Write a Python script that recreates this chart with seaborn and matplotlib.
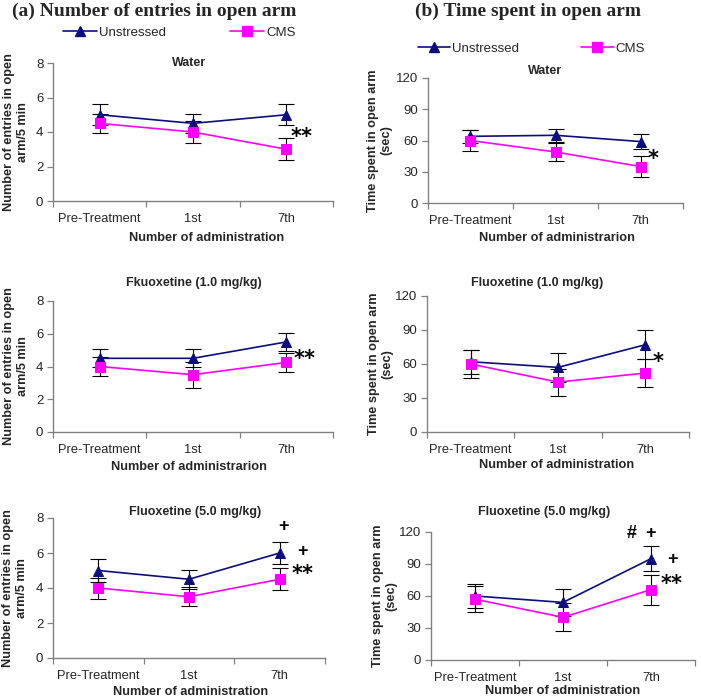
import matplotlib
matplotlib.use("Agg")
import matplotlib.pyplot as plt
from matplotlib.lines import Line2D
import seaborn as sns
import pandas as pd

# ---------------- data ----------------
categories = ["Pre-Treatment", "1st", "7th"]
groups = ["Unstressed", "CMS"]

# (a) Number of entries in open arm
ent_water_uns = [5.0, 4.5, 5.0]
ent_water_uns_err = [0.62, 0.55, 0.62]
ent_water_cms = [4.5, 4.0, 3.0]
ent_water_cms_err = [0.55, 0.65, 0.65]

ent_flx1_uns = [4.5, 4.5, 5.5]
ent_flx1_uns_err = [0.55, 0.55, 0.55]
ent_flx1_cms = [4.0, 3.5, 4.25]
ent_flx1_cms_err = [0.6, 0.8, 0.6]

ent_flx5_uns = [5.0, 4.5, 6.0]
ent_flx5_uns_err = [0.65, 0.55, 0.65]
ent_flx5_cms = [4.0, 3.5, 4.5]
ent_flx5_cms_err = [0.6, 0.55, 0.62]

# (b) Time spent in open arm (sec)
time_water_uns = [64, 65, 59]
time_water_uns_err = [6, 6.5, 7]
time_water_cms = [60, 49, 35]
time_water_cms_err = [10, 9, 10]

time_flx1_uns = [62, 57, 77]
time_flx1_uns_err = [10.5, 12.5, 13]
time_flx1_cms = [60, 44, 52]
time_flx1_cms_err = [12, 12, 12]

time_flx5_uns = [60, 54, 95]
time_flx5_uns_err = [11, 13, 12]
time_flx5_cms = [57, 40, 66]
time_flx5_cms_err = [12, 13, 14]

ent_yticks = [0, 2, 4, 6, 8]
time_yticks = [0, 30, 60, 90, 120]

# ---------------- style ----------------
sns.set_theme(style="ticks")
plt.rcParams["font.family"] = ["Liberation Sans", "DejaVu Sans"]

NAVY = "#0d0d80"
MAG = "#ff00ff"
AX_GRAY = "#808080"
W, H = 701, 700

fig = plt.figure(figsize=(7.01, 7.0), dpi=100)
fig.patch.set_facecolor("white")


def px_axes(left, top, right, bottom):
    return fig.add_axes([left / W, 1 - bottom / H, (right - left) / W, (bottom - top) / H])


def panel(ax, uns, uns_err, cms, cms_err, yticks, title, tpos, xlabel, xlpos,
          ylabel, ylx, annots):
    pos = list(range(len(categories)))
    df = pd.DataFrame({
        "pos": pos * 2,
        "value": list(uns) + list(cms),
        "group": [groups[0]] * 3 + [groups[1]] * 3,
    })
    errs = {groups[0]: uns_err, groups[1]: cms_err}
    for g, col, mk, ms in [(groups[0], NAVY, "^", 7.8), (groups[1], MAG, "s", 7.5)]:
        sub = df[df["group"] == g]
        ax.errorbar(sub["pos"], sub["value"], yerr=errs[g], fmt="none",
                    ecolor="black", elinewidth=0.8, capsize=5.5, capthick=0.8, zorder=2)
        sns.lineplot(data=sub, x="pos", y="value", color=col, marker=mk,
                     markersize=ms, markeredgecolor=col, linewidth=1.2,
                     ax=ax, legend=False, zorder=3)
    ax.set_xlim(-0.5, len(categories) - 0.5)
    ax.set_ylim(yticks[0], yticks[-1])
    ax.set_yticks(yticks)
    ax.set_xticks(pos)
    ax.set_xticklabels(categories)
    ax.set_xticks([p - 0.5 for p in pos] + [pos[-1] + 0.5], minor=True)
    ax.tick_params(axis="x", which="major", length=0, pad=8.5, labelsize=9.3)
    ax.tick_params(axis="x", which="minor", length=4, width=0.9, color=AX_GRAY, direction="out")
    ax.tick_params(axis="y", length=4, width=0.9, color=AX_GRAY, pad=3, labelsize=9.5)
    for s in ["top", "right"]:
        ax.spines[s].set_visible(False)
    for s in ["left", "bottom"]:
        ax.spines[s].set_color(AX_GRAY)
        ax.spines[s].set_linewidth(1.0)
    ax.set_facecolor("white")
    ax.text(tpos[0], tpos[1], title, transform=ax.transAxes, ha="center",
            va="center", fontsize=9, fontweight="bold")
    ax.set_xlabel(xlabel, fontsize=9.2, fontweight="bold", va="center")
    ax.xaxis.set_label_coords(xlpos[0], xlpos[1])
    ax.set_ylabel(ylabel, fontsize=9.2, fontweight="bold", va="center",
                  linespacing=1.15)
    ax.yaxis.set_label_coords(ylx, 0.5)
    for (tx, ty, s) in annots:
        if "*" in s:
            ax.annotate(s, (tx, ty), xytext=(0, -5), textcoords="offset points",
                        ha="center", va="center", fontsize=15, fontweight="bold",
                        family="DejaVu Sans", color="black")
        else:
            ax.annotate(s, (tx, ty), xytext=(0, 0), textcoords="offset points",
                        ha="center", va="center", fontsize=13, fontweight="bold",
                        family="Liberation Sans", color="black")


ylab_a = "Number of entries in open\narm/5 min"
ylab_b = "Time spent in open arm\n(sec)"

ax1 = px_axes(53, 63, 333, 201)
panel(ax1, ent_water_uns, ent_water_uns_err, ent_water_cms, ent_water_cms_err,
      ent_yticks, "Water", (0.486, 1.0), "Number of administration", (0.55, -0.268),
      ylab_a, -0.132, [(2.16, 4.1, "**")])

ax2 = px_axes(428, 78, 683, 203)
panel(ax2, time_water_uns, time_water_uns_err, time_water_cms, time_water_cms_err,
      time_yticks, "Water", (0.459, 1.056), "Number of administrarion", (0.506, -0.28),
      ylab_b, -0.188, [(2.15, 49, "*")])

ax3 = px_axes(53, 301, 333, 432)
panel(ax3, ent_flx1_uns, ent_flx1_uns_err, ent_flx1_cms, ent_flx1_cms_err,
      ent_yticks, "Fkuoxetine (1.0 mg/kg)", (0.504, 1.137), "Number of administrarion",
      (0.486, -0.267), ylab_a, -0.132, [(2.2, 4.9, "**")])

ax4 = px_axes(427, 296, 689, 432)
panel(ax4, time_flx1_uns, time_flx1_uns_err, time_flx1_cms, time_flx1_cms_err,
      time_yticks, "Fluoxetine (1.0 mg/kg)", (0.42, 1.096), "Number of administration",
      (0.496, -0.243), ylab_b, -0.176, [(2.14, 68, "*")])

ax5 = px_axes(53, 518, 325, 658)
panel(ax5, ent_flx5_uns, ent_flx5_uns_err, ent_flx5_cms, ent_flx5_cms_err,
      ent_yticks, "Fluoxetine (5.0 mg/kg)", (0.522, 1.043), "Number of administration",
      (0.507, -0.243), ylab_a, -0.14,
      [(2.04, 7.5, "+"), (2.25, 6.06, "+"), (2.25, 5.2, "**")])

ax6 = px_axes(431, 532, 695, 660)
panel(ax6, time_flx5_uns, time_flx5_uns_err, time_flx5_cms, time_flx5_cms_err,
      time_yticks, "Fluoxetine (5.0 mg/kg)", (0.428, 1.156), "Number of administration",
      (0.5, -0.242), ylab_b, -0.174,
      [(1.78, 119, "#"), (1.99, 119, "+"), (2.25, 94, "+"), (2.23, 78, "**")])

# headers
fig.text(12 / W, 1 - 11 / H, "(a) Number of entries in open arm", family="Liberation Serif",
         fontweight="bold", fontsize=14, ha="left", va="center")
fig.text(415 / W, 1 - 11 / H, "(b) Time spent in open arm", family="Liberation Serif",
         fontweight="bold", fontsize=14, ha="left", va="center")

# legends
handles = [Line2D([], [], color=NAVY, marker="^", markersize=7.8, mec=NAVY, lw=1.2),
           Line2D([], [], color=MAG, marker="s", markersize=7.5, mec=MAG, lw=1.2)]
fig.legend(handles, groups, loc="center left", bbox_to_anchor=(63 / W, 1 - 33 / H),
           ncol=2, frameon=False, fontsize=9.5, handlelength=2.6, handletextpad=0.15,
           columnspacing=4.8, borderpad=0, borderaxespad=0)
fig.legend(handles, groups, loc="center left", bbox_to_anchor=(418 / W, 1 - 49 / H),
           ncol=2, frameon=False, fontsize=9.5, handlelength=2.45, handletextpad=0.15,
           columnspacing=4.7, borderpad=0, borderaxespad=0)

fig.savefig("out.png", dpi=100, facecolor="white")
